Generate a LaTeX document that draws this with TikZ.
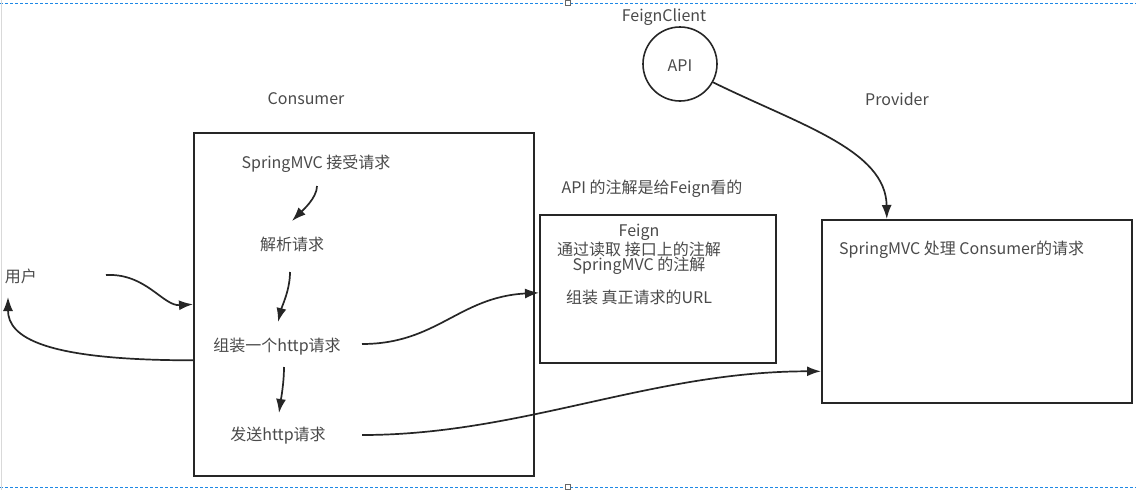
\documentclass[tikz,border=0pt]{standalone}
\usepackage{fontspec}
\setmainfont{Noto Sans CJK SC}
\usetikzlibrary{arrows.meta,calc}
\definecolor{txt}{HTML}{4A4A4A}
\definecolor{ln}{HTML}{262626}
\definecolor{sel}{HTML}{1E88E5}
\tikzset{
  lbl/.style={inner sep=0pt, text=txt, font=\fontsize{16pt}{16.5pt}\selectfont},
  boxed/.style={draw=ln, line width=1.6pt, anchor=north west, inner sep=0pt},
  conn/.style={draw=ln, line width=1.7pt, -{Latex[length=14pt,width=10pt]}},
  selline/.style={draw=sel, line width=0.8pt, dash pattern=on 3pt off 2pt},
}
\begin{document}
\begin{tikzpicture}[x=1pt,y=-1pt]
\useasboundingbox (0,0) rectangle (1136,490);
\fill[white] (0,0) rectangle (1136,490);
% selection frame of the screenshot
\draw[selline] (0,3) -- (1136,3);
\draw[selline] (0,487) -- (1136,487);
\draw[black!15, line width=1pt] (1,0) -- (1,490);
\node[draw=ln!70, fill=white, line width=0.6pt, minimum size=5pt, inner sep=0pt] (h1) at (568,3) {};
\node[draw=ln!70, fill=white, line width=0.6pt, minimum size=5pt, inner sep=0pt] (h2) at (568,487) {};

% boxes
\node[boxed, minimum width=340pt, minimum height=343pt] (cons) at (193,132) {};
\node[boxed, minimum width=236pt, minimum height=148pt] (feign) at (539,214) {};
\node[boxed, minimum width=310pt, minimum height=183pt] (prov) at (821,219) {};
\node[draw=ln, line width=1.6pt, circle, minimum size=74pt, inner sep=0pt] (api) at (680,64) {};
\node[lbl] (apit) at (680,66) {API};

% labels
\node[lbl] (consl) at (306,99) {Consumer};
\node[lbl] (fcl) at (664,17) {FeignClient};
\node[lbl] (provl) at (897,99) {Provider};
\node[lbl] (annot) at (652,189) {API 的注解是给Feign看的};
\node[lbl] (user) at (21,276) {用户};

% consumer steps
\node[lbl] (smvc) at (316,164) {SpringMVC 接受请求};
\node[lbl] (parse) at (292,244) {解析请求};
\node[lbl] (http) at (277,347) {组装一个http请求};
\node[lbl] (send) at (278,436) {发送http请求};

% feign text
\node[lbl] (f1) at (639,232) {Feign};
\node[lbl] (f2) at (639,249) {通过读取 接口上的注解};
\node[lbl] (f3) at (639,266) {SpringMVC 的注解};
\node[lbl] (f4) at (639,297) {组装 真正请求的URL};

% provider text
\node[lbl, anchor=west] (p1) at (839,250) {SpringMVC 处理 Consumer的请求};

% connectors inside consumer
\draw[conn] ([shift={(1,22)}]smvc.center) .. controls +(0,12) and +(10,-10) .. ([shift={(0,-23)}]parse.center);
\draw[conn] ([shift={(-2,28)}]parse.center) .. controls +(0,18) and +(4,-16) .. ([shift={(1,-25)}]http.center);
\draw[conn] ([shift={(7,20)}]http.center) .. controls +(0,16) and +(2,-14) .. ([shift={(1,-23)}]send.center);

% user <-> consumer
\draw[conn] ([shift={(85,-1)}]user.center) .. controls +(40,-2) and +(-30,2) .. (cons.west);
\draw[conn] ([yshift=-56pt]cons.west) .. controls +(-150,0) and +(0,40) .. ([shift={(-13,21)}]user.center);

% consumer -> feign / provider
\draw[conn] ([shift={(85,-3)}]http.center) .. controls +(75,0) and +(-80,4) .. ([yshift=-4pt]feign.west);
\draw[conn] ([shift={(84,-1)}]send.center) .. controls +(160,0) and +(-170,0) .. ([yshift=-60pt]prov.west);

% API -> provider
\draw[conn] (api.-29) .. controls (800,125) and (886,150) .. ([xshift=-90pt]prov.north);
\end{tikzpicture}
\end{document}
